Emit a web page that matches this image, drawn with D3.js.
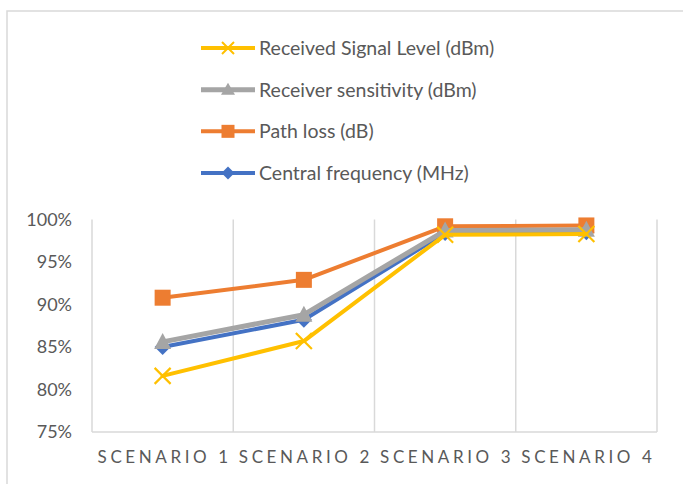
<!DOCTYPE html>
<html>
<head>
<meta charset="utf-8">
<script src="https://cdn.jsdelivr.net/npm/d3@7"></script>
<style>
  html, body { margin: 0; padding: 0; background: #fff; }
  svg { display: block; }
  text { font-family: Lato, "Open Sans", sans-serif; fill: #595959; }
</style>
</head>
<body>
<svg id="chart" width="683" height="484"></svg>
<script>
// Scenario categories along the x axis
const scenarios = ["SCENARIO 1", "SCENARIO 2", "SCENARIO 3", "SCENARIO 4"];

// Normalised values per series (fraction of 1)
const receivedSignal = [0.816, 0.857, 0.982, 0.983];
const receiverSensitivity = [0.856, 0.888, 0.987, 0.988];
const pathLoss = [0.908, 0.929, 0.992, 0.993];
const centralFrequency = [0.850, 0.882, 0.984, 0.985];

const yTicks = [0.75, 0.80, 0.85, 0.90, 0.95, 1.00];

// Series in drawing order (first drawn sits underneath)
const series = [
  { name: "Central frequency (MHz)", values: centralFrequency, color: "#4472C4", marker: "diamond", width: 4 },
  { name: "Path loss (dB)", values: pathLoss, color: "#ED7D31", marker: "square", width: 4 },
  { name: "Receiver sensitivity (dBm)", values: receiverSensitivity, color: "#A5A5A5", marker: "triangle", width: 5 },
  { name: "Received Signal Level (dBm)", values: receivedSignal, color: "#FFC000", marker: "cross", width: 4 }
];
// Legend lists the series top to bottom in reverse order
const legendOrder = series.slice().reverse();

const svg = d3.select("#chart");

// Outer chart frame
svg.append("rect")
  .attr("x", 7).attr("y", 11)
  .attr("width", 700).attr("height", 500)
  .attr("fill", "none").attr("stroke", "#d9d9d9").attr("stroke-width", 1.5);

const plot = { left: 92, right: 657, top: 219.5, bottom: 432 };

const x = d3.scaleBand().domain(scenarios).range([plot.left, plot.right]);
const y = d3.scaleLinear().domain([0.75, 1.0]).range([plot.bottom, plot.top]);

// Vertical grid lines at category boundaries
const bounds = scenarios.map(s => x(s)).concat([plot.right]);
svg.append("g").selectAll("line").data(bounds).join("line")
  .attr("x1", d => d).attr("x2", d => d)
  .attr("y1", plot.top).attr("y2", plot.bottom)
  .attr("stroke", "#d9d9d9").attr("stroke-width", 1.5);

// Bottom axis line
svg.append("line")
  .attr("x1", plot.left).attr("x2", plot.right)
  .attr("y1", plot.bottom).attr("y2", plot.bottom)
  .attr("stroke", "#d9d9d9").attr("stroke-width", 1.5);

// Y axis tick labels
const yAxis = d3.axisLeft(y).tickValues(yTicks).tickFormat(d3.format(".0%")).tickSize(0).tickPadding(20);
const yg = svg.append("g").attr("transform", `translate(${plot.left},0)`).call(yAxis);
yg.select(".domain").remove();
yg.selectAll("text").style("font-size", "18px").style("font-family", "Lato, sans-serif").attr("fill", "#595959");

// X axis category labels
const xAxis = d3.axisBottom(x).tickSize(0).tickPadding(19);
const xg = svg.append("g").attr("transform", `translate(0,${plot.bottom})`).call(xAxis);
xg.select(".domain").remove();
xg.selectAll("text")
  .style("font-size", "17px").style("font-family", "Lato, sans-serif")
  .style("letter-spacing", "3.6px").attr("dx", "2px").attr("fill", "#595959");

// Marker shapes
function drawMarker(g, type, cx, cy, color) {
  if (type === "square") {
    g.append("rect").attr("x", cx - 8).attr("y", cy - 8).attr("width", 16).attr("height", 16).attr("fill", color);
  } else if (type === "triangle") {
    g.append("path").attr("d", `M${cx},${cy - 9}L${cx + 8.5},${cy + 7}L${cx - 8.5},${cy + 7}Z`).attr("fill", color);
  } else if (type === "diamond") {
    g.append("path").attr("d", `M${cx},${cy - 8}L${cx + 8},${cy}L${cx},${cy + 8}L${cx - 8},${cy}Z`).attr("fill", color);
  } else if (type === "cross") {
    g.append("path").attr("d", `M${cx - 8},${cy - 8}L${cx + 8},${cy + 8}M${cx + 8},${cy - 8}L${cx - 8},${cy + 8}`)
      .attr("stroke", color).attr("stroke-width", 2.2).attr("fill", "none");
  }
}

const line = d3.line()
  .x((d, i) => x(scenarios[i]) + x.bandwidth() / 2)
  .y(d => y(d));

series.forEach(s => {
  const g = svg.append("g");
  g.append("path").datum(s.values).attr("d", line)
    .attr("fill", "none").attr("stroke", s.color).attr("stroke-width", s.width)
    .attr("stroke-linejoin", "round").attr("stroke-linecap", "round");
  s.values.forEach((v, i) => drawMarker(g, s.marker, x(scenarios[i]) + x.bandwidth() / 2, y(v), s.color));
});

// Legend
const legendY = d3.scalePoint().domain(legendOrder.map(s => s.name)).range([48, 173]);
legendOrder.forEach(s => {
  const g = svg.append("g").attr("transform", `translate(0,${legendY(s.name)})`);
  g.append("line").attr("x1", 201).attr("x2", 255).attr("y1", 0).attr("y2", 0)
    .attr("stroke", s.color).attr("stroke-width", s.width);
  const lm = 6.5;
  if (s.marker === "square") g.append("rect").attr("x", 228 - lm).attr("y", -lm).attr("width", lm * 2).attr("height", lm * 2).attr("fill", s.color);
  else if (s.marker === "triangle") g.append("path").attr("d", `M228,${-7}L${235},${5}L${221},${5}Z`).attr("fill", s.color);
  else if (s.marker === "diamond") g.append("path").attr("d", `M228,-6.5L234.5,0L228,6.5L221.5,0Z`).attr("fill", s.color);
  else g.append("path").attr("d", "M222,-6L234,6M234,-6L222,6").attr("stroke", s.color).attr("stroke-width", 2).attr("fill", "none");
  g.append("text").attr("x", 259).attr("y", 0).attr("dy", "0.36em")
    .style("font-size", "19.5px").text(s.name);
});
</script>
</body>
</html>
